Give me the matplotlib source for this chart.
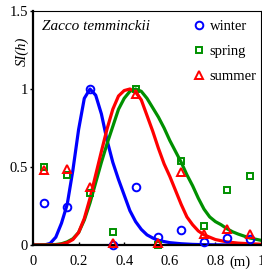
import numpy as np
import matplotlib
matplotlib.use("Agg")
import matplotlib.pyplot as plt

plt.rcParams['font.family'] = ['Liberation Serif', 'DejaVu Serif']

# observed points (depth classes, m)
obs_x = [0.05, 0.15, 0.25, 0.35, 0.45, 0.55, 0.65, 0.75, 0.85, 0.95]
winter_pts = [0.27, 0.245, 1.0, 0.0, 0.37, 0.05, 0.095, 0.02, 0.047, 0.04]
spring_pts = [0.50, 0.45, 0.335, 0.085, 1.0, 0.0, 0.54, 0.12, 0.35, 0.44]
summer_pts = [0.48, 0.49, 0.37, 0.01, 0.97, 0.01, 0.47, 0.07, 0.10, 0.07]

# fitted curves
winter_cx = [0.0, 0.05, 0.075, 0.1, 0.125, 0.15, 0.175, 0.2, 0.225, 0.25, 0.275, 0.3,
             0.325, 0.35, 0.375, 0.4, 0.425, 0.45, 0.475, 0.5, 0.525, 0.55, 0.575,
             0.6, 0.65, 0.7, 0.75, 0.8, 0.9, 1.0]
winter_cy = [0.0, 0.0, 0.01, 0.05, 0.14, 0.26, 0.48, 0.74, 0.94, 1.0, 0.96, 0.84,
             0.67, 0.53, 0.42, 0.32, 0.22, 0.15, 0.10, 0.065, 0.045, 0.03, 0.022,
             0.015, 0.008, 0.004, 0.002, 0.001, 0.0, 0.0]

spring_cx = [0.0, 0.1, 0.125, 0.15, 0.175, 0.2, 0.225, 0.25, 0.275, 0.3, 0.325, 0.35,
             0.375, 0.4, 0.425, 0.45, 0.475, 0.5, 0.525, 0.55, 0.575, 0.6, 0.625,
             0.65, 0.675, 0.7, 0.725, 0.75, 0.775, 0.8, 0.825, 0.85, 0.875, 0.9,
             0.95, 1.0]
spring_cy = [0.0, 0.003, 0.008, 0.02, 0.04, 0.08, 0.16, 0.27, 0.40, 0.53, 0.65, 0.76,
             0.87, 0.94, 0.985, 1.0, 0.985, 0.94, 0.88, 0.82, 0.75, 0.67, 0.60,
             0.53, 0.45, 0.38, 0.30, 0.23, 0.18, 0.15, 0.13, 0.105, 0.085, 0.07,
             0.045, 0.03]

summer_cx = [0.0, 0.1, 0.125, 0.15, 0.175, 0.2, 0.225, 0.25, 0.275, 0.3, 0.325, 0.35,
             0.375, 0.4, 0.425, 0.45, 0.475, 0.5, 0.525, 0.55, 0.575, 0.6, 0.625,
             0.65, 0.675, 0.7, 0.725, 0.75, 0.8, 0.85, 0.9, 0.95, 1.0]
summer_cy = [0.0, 0.0, 0.005, 0.015, 0.035, 0.08, 0.17, 0.30, 0.45, 0.60, 0.745, 0.87,
             0.955, 0.99, 1.0, 0.98, 0.93, 0.83, 0.73, 0.62, 0.52, 0.44, 0.35,
             0.26, 0.18, 0.13, 0.09, 0.065, 0.035, 0.02, 0.012, 0.008, 0.005]

xticks = [0, 0.2, 0.4, 0.6, 0.8, 1]
xticklabels = ['0', '0.2', '0.4', '0.6', '0.8', '1']
yticks = [0, 0.5, 1, 1.5]
yticklabels = ['0', '0.5', '1', '1.5']

blue = '#0000ff'
green = '#009000'
red = '#ff0000'

fig = plt.figure(figsize=(2.62, 2.71), dpi=100)
ax = fig.add_axes([33 / 262, 26 / 271, 228 / 262, 234 / 271])

ax.plot(winter_cx, winter_cy, color=blue, lw=2.3, zorder=2)
ax.plot(spring_cx, spring_cy, color=green, lw=2.3, zorder=2)
ax.plot(summer_cx, summer_cy, color=red, lw=2.3, zorder=2)

ax.plot(obs_x, winter_pts, 'o', ms=5.5, mfc='none', mec=blue, mew=1.4,
        label='winter', zorder=3, clip_on=False)
ax.plot(obs_x, spring_pts, 's', ms=5.0, mfc='none', mec=green, mew=1.4,
        label='spring', zorder=3, clip_on=False)
ax.plot(obs_x, summer_pts, '^', ms=5.5, mfc='none', mec=red, mew=1.4,
        label='summer', zorder=3, clip_on=False)

ax.set_xlim(0, 1)
ax.set_ylim(0, 1.5)
ax.set_xticks(xticks)
ax.set_xticklabels(xticklabels)
ax.set_yticks(yticks)
ax.set_yticklabels(yticklabels)
ax.tick_params(axis='x', direction='in', length=2, width=1, labelsize=10.5, pad=7)
ax.tick_params(axis='y', direction='out', length=2, width=1, labelsize=10.5, pad=1.5)

for side in ['left', 'bottom']:
    ax.spines[side].set_linewidth(1.6)
for side in ['top', 'right']:
    ax.spines[side].set_linewidth(0.8)

ax.text(0.04, 0.935, 'Zacco temminckii', transform=ax.transAxes, style='italic',
        fontsize=11, ha='left', va='center')
ax.text(-0.048, 1.244, 'SI(h)', transform=ax.get_yaxis_transform(), style='italic',
        fontsize=10.5, rotation=90, ha='center', va='center')
ax.text(0.908, -0.075, '(m)', transform=ax.transAxes, fontsize=10.5,
        ha='center', va='center')

ax.legend(loc='upper right', bbox_to_anchor=(1.0, 0.98), frameon=False,
          fontsize=10.5, handlelength=0.6, handletextpad=0.45, labelspacing=0.8,
          borderaxespad=0.2, borderpad=0.1)

fig.savefig('out.png', dpi=100)
